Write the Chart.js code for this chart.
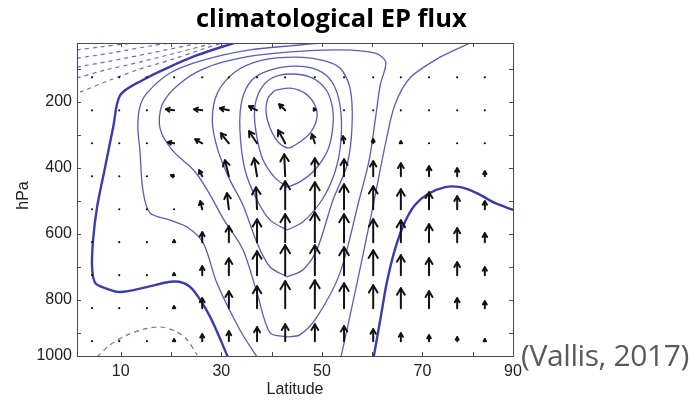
<!DOCTYPE html>
<html>
<head>
<meta charset="utf-8">
<script src="https://cdn.jsdelivr.net/npm/chart.js@4.4.1/dist/chart.umd.min.js"></script>
<style>
  body { margin: 0; background: #fff; }
  #wrap { position: relative; width: 697px; height: 403px; }
  #title { position: absolute; left: 196px; top: 0px; font: bold 25.5px "Open Sans", sans-serif; color: #000; white-space: nowrap; }
  #cite { position: absolute; left: 521px; top: 334px; font: 30px "Open Sans", sans-serif; color: #5a5a5a; white-space: nowrap; letter-spacing: -0.4px; }
</style>
</head>
<body>
<div id="wrap">
  <canvas id="chart" width="697" height="403"></canvas>
  <div id="title">climatological EP flux</div>
  <div id="cite">(Vallis, 2017)</div>
</div>
<script>
// axes
const xTickVals = [10, 20, 30, 40, 50, 60, 70, 80, 88];
const xTickLabels = ['10', '', '30', '', '50', '', '70', '', '90'];
const yTickVals = [100, 200, 300, 400, 500, 600, 700, 800, 900, 970];
const yTickLabels = ['', '200', '', '400', '', '600', '', '800', '', '1000'];

// EP flux arrows on a lat/pressure grid (upward V, poleward U)
const lats = [4.3, 9.7, 15.2, 20.6, 26.2, 31.5, 37.1, 42.7, 48.6, 54.4, 60.2, 65.7, 71.3, 76.9, 82.4];
const levels = [125, 225, 325, 425, 525, 625, 725, 825, 925];
const fluxU = [
  [0, 0, 0, 0, 0, 0, 0, 0, 0, 0, 0, 0, 0, 0, 0],
  [0, 0, 0, -8, -8, -9, -8, -6, -1, 0, 0, 0, 0, 0, 0],
  [0, 0, 0, -6, -7, -8, -8, -7, -3, -1, 0, 0, 0, 0, 0],
  [0, 0, 0, -3, -3, -4, -3, -1, 0, 0, 0, 0, 0, 0, 0],
  [0, 0, 0, 0, -2, -2, -1, 0, 0, 0, 0, 0, 0, 0, 0],
  [0, 0, 0, 0, 0, 0, 0, 0, 0, 0, 0, 0, 0, 0, 0],
  [0, 0, 0, 0, 0, 0, 0, 0, 0, 0, 0, 0, 0, 0, 0],
  [0, 0, 0, 0, 0, 0, 0, 0, 0, 0, 0, 0, 0, 0, 0],
  [0, 0, 0, 0, 0, 0, 0, 0, 0, 0, 0, 0, 0, 0, 0]
];
const fluxV = [
  [0, 0, 0, 0, 0, 0, 0, 0, 0, 0, 0, 0, 0, 0, 0],
  [0, 0, 0, 1, 1, 2, 4, 6, 2, 0, 0, 0, 0, 0, 0],
  [0, 0, 0, 1, 4, 10, 12, 13, 9, 7, 4, 2, 0, 0, 0],
  [0, 0, 0, 1, 6, 16, 18, 22, 18, 17, 15, 13, 10, 8, 5],
  [0, 0, 0, 1, 8, 16, 22, 28, 27, 25, 23, 20, 17, 13, 8],
  [0, 0, 0, 2, 10, 16, 23, 28, 30, 28, 23, 22, 18, 14, 9],
  [0, 0, 0, 2, 9, 17, 24, 30, 30, 28, 25, 20, 17, 13, 8],
  [0, 0, 0, 2, 10, 17, 22, 27, 28, 25, 23, 20, 17, 10, 7],
  [0, 0, 0, 2, 7, 10, 14, 17, 17, 15, 12, 8, 6, 4, 2]
];

// zonal wind contours, [latitude, hPa]
const zeroSouth = [[32.5, 21], [25.2, 58], [19.2, 97], [14.4, 133], [9.9, 179], [8.5, 276], [6.9, 397], [5.3, 518], [4.5, 618], [4.3, 700], [4.9, 748], [6.9, 764], [9.9, 776], [15.2, 761], [19.8, 745], [22.4, 748], [24.4, 770], [27.8, 852], [31.3, 973]];
const zeroNorth = [[60.3, 973], [61.6, 861], [62.9, 748], [64.5, 648], [66.5, 564], [68.5, 512], [71.1, 479], [74.5, 458], [77.5, 458], [80.8, 476], [84.4, 506], [88, 527]];
const eastSurface = [[5.3, 973], [7.9, 936], [11.3, 906], [14.8, 888], [17.8, 882], [20.8, 894], [23.2, 921], [25.2, 967]];
const eastTop1 = [[1.3, 42], [5.9, 33], [10.9, 24], [13.8, 21]];
const eastTop2 = [[1.3, 67], [7.9, 52], [15.8, 30], [19.8, 21]];
const eastTop3 = [[1.3, 94], [7.9, 76], [15.8, 52], [22.8, 30], [25.8, 21]];
const eastTop4 = [[1.3, 127], [6.9, 103], [13.8, 79], [20.8, 52], [27.8, 24]];
const eastTop5 = [[1.9, 170], [7.9, 133], [13.8, 100], [19.8, 73], [25.8, 42], [30.1, 21]];
const west5South = [[37.1, 973], [33.7, 891], [29.1, 748], [26.4, 627], [23.2, 579], [19.8, 558], [15.8, 536], [14.4, 467], [13.8, 345], [13.4, 276], [13.8, 215], [15.2, 173], [19.8, 112], [26.4, 73], [35.7, 42], [45.6, 27], [50.0, 21]];
const west5North = [[53.8, 973], [57.0, 748], [59.6, 558], [60.8, 467], [62.8, 315], [64.5, 209], [67.5, 127], [73.5, 64], [79.5, 21]];
const west10 = [[43.1, 912], [39.7, 900], [37.1, 779], [34.3, 648], [30.3, 552], [27.8, 482], [24.8, 412], [20.2, 345], [17.8, 279], [18.2, 209], [21.4, 148], [26.8, 97], [34.7, 64], [43.7, 48], [53.6, 42], [60.6, 52], [62.7, 79], [61.6, 148], [60.6, 255], [59.4, 376], [57.4, 497], [53.6, 718], [49.0, 852], [45.6, 906], [43.1, 912]];
const west15 = [[43.1, 730], [39.7, 700], [37.1, 627], [34.3, 512], [31.7, 436], [29.3, 345], [28.2, 255], [29.3, 170], [32.7, 109], [38.1, 73], [44.7, 64], [50.0, 73], [53.6, 97], [55.6, 158], [56.0, 270], [55.0, 391], [52.2, 497], [49.0, 648], [46.2, 709], [43.1, 730]];
const west20 = [[43.1, 588], [39.7, 558], [37.1, 497], [34.7, 406], [33.7, 285], [34.1, 194], [36.1, 133], [39.7, 103], [44.7, 91], [49.2, 103], [52.0, 139], [53.6, 209], [53.8, 315], [52.6, 412], [50.0, 497], [46.2, 564], [43.1, 588]];
const west25 = [[43.1, 458], [40.7, 430], [38.3, 376], [37.0, 300], [36.6, 224], [37.7, 164], [40.1, 127], [43.7, 115], [47.6, 124], [50.6, 158], [52.0, 209], [52.2, 270], [51.2, 345], [48.6, 406], [45.6, 442], [43.1, 458]];
const west30 = [[40.7, 164], [43.7, 158], [46.6, 173], [48.6, 209], [49.0, 248], [47.8, 291], [45.6, 321], [43.3, 339], [41.3, 321], [39.7, 279], [38.9, 230], [39.3, 188], [40.7, 164]];

const thinBlue = '#5b5bb8';
const thickBlue = '#3b3bab';
const dashBlue = '#6c6cb8';

function contour(pts, width, color, dash) {
  return {
    data: pts.map(([lat, p]) => ({ x: lat, y: p })),
    showLine: true,
    borderColor: color,
    borderWidth: width,
    borderDash: dash || [],
    pointRadius: 0,
    tension: 0.3,
    clip: 0,
    fill: false
  };
}

const datasets = [
  contour(zeroSouth, 2.4, thickBlue),
  contour(zeroNorth, 2.4, thickBlue),
  contour(eastSurface, 1.2, dashBlue, [5, 4]),
  contour(eastTop1, 1.2, dashBlue, [4, 4]),
  contour(eastTop2, 1.2, dashBlue, [4, 4]),
  contour(eastTop3, 1.2, dashBlue, [4, 4]),
  contour(eastTop4, 1.2, dashBlue, [4, 4]),
  contour(eastTop5, 1.2, dashBlue, [4, 4]),
  contour(west5South, 1.3, thinBlue),
  contour(west5North, 1.3, thinBlue),
  contour(west10, 1.3, thinBlue),
  contour(west15, 1.3, thinBlue),
  contour(west20, 1.3, thinBlue),
  contour(west25, 1.3, thinBlue),
  contour(west30, 1.3, thinBlue)
];

// arrows drawn from the flux arrays at grid points
const quiverPlugin = {
  id: 'quiver',
  afterDatasetsDraw(chart) {
    const { ctx, scales: { x, y } } = chart;
    ctx.save();
    ctx.strokeStyle = '#111';
    ctx.fillStyle = '#111';
    ctx.lineWidth = 2;
    ctx.lineCap = 'round';
    ctx.lineJoin = 'round';
    levels.forEach((p, i) => {
      lats.forEach((lat, j) => {
        const x0 = x.getPixelForValue(lat);
        const y0 = y.getPixelForValue(p);
        const dx = fluxU[i][j];
        const dy = -fluxV[i][j];
        const len = Math.hypot(dx, dy);
        if (len < 1.5) {
          ctx.beginPath();
          ctx.arc(x0, y0, 1.1, 0, Math.PI * 2);
          ctx.fill();
          return;
        }
        const x1 = x0 + dx, y1 = y0 + dy;
        const ang = Math.atan2(dy, dx);
        const h = Math.min(8, 0.25 * len + 1.5);
        const w = h * 0.6;
        ctx.beginPath();
        ctx.moveTo(x0, y0);
        ctx.lineTo(x1, y1);
        ctx.stroke();
        const bx = x1 - h * Math.cos(ang), by = y1 - h * Math.sin(ang);
        const nx = -Math.sin(ang) * w, ny = Math.cos(ang) * w;
        ctx.beginPath();
        ctx.moveTo(bx + nx, by + ny);
        ctx.lineTo(x1, y1);
        ctx.lineTo(bx - nx, by - ny);
        ctx.stroke();
      });
    });
    ctx.restore();
  }
};

// box with inward ticks on all sides, plus axis titles
const framePlugin = {
  id: 'frame',
  afterDraw(chart) {
    const { ctx, chartArea: a, scales: { x, y } } = chart;
    ctx.save();
    ctx.strokeStyle = '#4a4a4a';
    ctx.lineWidth = 1;
    ctx.strokeRect(a.left + 0.5, a.top + 0.5, a.right - a.left, a.bottom - a.top);
    ctx.beginPath();
    xTickVals.slice(0, -1).forEach(v => {
      const px = Math.round(x.getPixelForValue(v)) + 0.5;
      ctx.moveTo(px, a.bottom); ctx.lineTo(px, a.bottom - 4);
      ctx.moveTo(px, a.top); ctx.lineTo(px, a.top + 4);
    });
    yTickVals.slice(0, -1).forEach(v => {
      const py = Math.round(y.getPixelForValue(v)) + 0.5;
      ctx.moveTo(a.left, py); ctx.lineTo(a.left + 4, py);
      ctx.moveTo(a.right, py); ctx.lineTo(a.right - 4, py);
    });
    ctx.stroke();
    ctx.fillStyle = '#222';
    ctx.font = '16px "Liberation Sans", Arial, sans-serif';
    ctx.textAlign = 'center';
    ctx.textBaseline = 'middle';
    ctx.fillText('Latitude', (a.left + a.right) / 2, a.bottom + 34);
    ctx.translate(a.left - 53, (a.top + a.bottom) / 2 - 4);
    ctx.rotate(-Math.PI / 2);
    ctx.fillText('hPa', 0, 0);
    ctx.restore();
  }
};

new Chart(document.getElementById('chart'), {
  type: 'scatter',
  data: { datasets },
  options: {
    responsive: false,
    animation: false,
    layout: { padding: { left: 0, right: 184, top: 43, bottom: 0 } },
    plugins: { legend: { display: false }, tooltip: { enabled: false } },
    scales: {
      x: {
        type: 'linear',
        min: 1.3,
        max: 88,
        grid: { display: false, drawTicks: false },
        border: { display: false },
        afterBuildTicks: s => { s.ticks = xTickVals.map(v => ({ value: v })); },
        afterFit: s => { s.height = 403 - 356; },
        ticks: {
          autoSkip: false, maxRotation: 0, padding: 6,
          color: '#222', font: { family: '"Liberation Sans", Arial', size: 16 },
          callback: (v, i) => xTickLabels[i]
        }
      },
      y: {
        type: 'linear',
        reverse: true,
        min: 21,
        max: 970,
        grid: { display: false, drawTicks: false },
        border: { display: false },
        afterBuildTicks: s => { s.ticks = yTickVals.map(v => ({ value: v })); },
        afterFit: s => { s.width = 77; },
        ticks: {
          autoSkip: false, padding: 5,
          color: '#222', font: { family: '"Liberation Sans", Arial', size: 16 },
          callback: (v, i) => yTickLabels[i]
        }
      }
    }
  },
  plugins: [quiverPlugin, framePlugin]
});
</script>
</body>
</html>
